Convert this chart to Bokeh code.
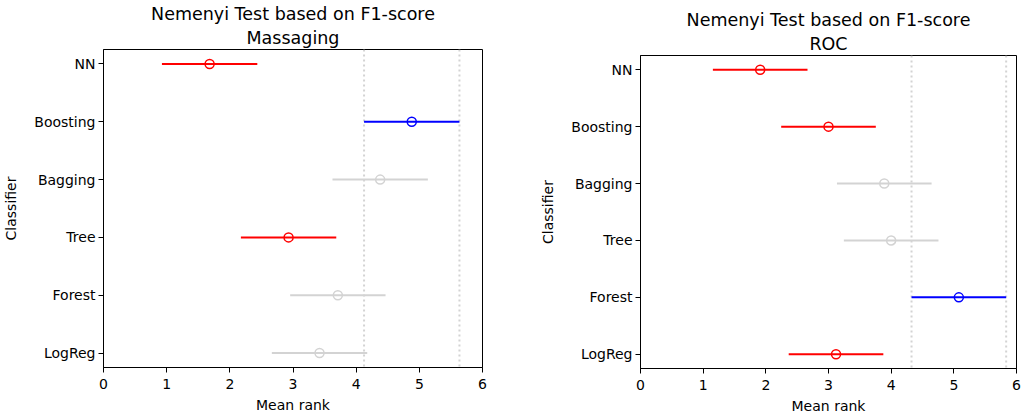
from bokeh.plotting import figure
from bokeh.models import Range1d, FixedTicker, Span, ColumnDataSource, Title
from bokeh.layouts import row, column
from bokeh.embed import file_html
from bokeh.resources import INLINE

classifiers = ["NN", "Boosting", "Bagging", "Tree", "Forest", "LogReg"]
massaging_ranks = [1.68, 4.88, 4.38, 2.93, 3.71, 3.42]
massaging_colors = ["red", "blue", "lightgray", "red", "lightgray", "lightgray"]
roc_ranks = [1.91, 3.00, 3.89, 4.00, 5.08, 3.12]
roc_colors = ["red", "red", "lightgray", "lightgray", "blue", "red"]
critical_difference = 1.51
x_ticks = [0, 1, 2, 3, 4, 5, 6]
main_title = "Nemenyi Test based on F1-score"
sub_titles = ["Massaging", "ROC"]

FONT = "DejaVu Sans"


def make(sub, ranks, colors, width, bl, br, bt, bb):
    n = len(classifiers)
    ys = [n - 1 - i for i in range(n)]
    half = critical_difference / 2
    src = ColumnDataSource(dict(
        y=ys, r=ranks,
        lo=[v - half for v in ranks], hi=[v + half for v in ranks],
        c=colors))
    p = figure(width=width, height=416, output_backend="svg", toolbar_location=None,
               x_range=Range1d(x_ticks[0], x_ticks[-1]), y_range=Range1d(-0.25, n - 0.75),
               min_border_left=bl, min_border_right=br, min_border_top=bt, min_border_bottom=bb)
    p.background_fill_color = "white"
    p.border_fill_color = "white"
    p.outline_line_color = "black"
    p.outline_line_width = 1
    p.outline_line_alpha = 1
    p.xgrid.visible = False
    p.ygrid.visible = False

    best = max(ranks)
    for loc in (best - half, best + half):
        p.add_layout(Span(location=loc, dimension="height", line_color="lightgray",
                          line_dash="2 3", line_width=2, level="underlay"))

    p.segment(x0="lo", y0="y", x1="hi", y1="y", source=src, line_color="c", line_width=2)
    p.scatter(x="r", y="y", source=src, marker="circle", size=9, fill_color=None,
              line_color="c", line_width=1.5)

    p.title.text = main_title
    p.title.align = "center"
    p.title.text_font = FONT
    p.title.text_font_size = "17.5px"
    p.title.text_font_style = "normal"
    p.title.text_color = "black"
    p.title.standoff = 0
    p.add_layout(Title(text=sub, align="center", text_font=FONT, text_color="black",
                       text_font_size="17.5px", text_font_style="normal", standoff=4,
                       text_line_height=0.9), "above")

    p.xaxis.ticker = FixedTicker(ticks=x_ticks)
    p.yaxis.ticker = FixedTicker(ticks=ys)
    p.yaxis.major_label_overrides = {y: name for y, name in zip(ys, classifiers)}
    p.xaxis.axis_label = "Mean rank"
    p.yaxis.axis_label = "Classifier"
    for ax in (p.xaxis[0], p.yaxis[0]):
        ax.minor_tick_line_color = None
        ax.major_tick_in = 0
        ax.major_tick_out = 5
        ax.axis_line_color = "black"
        ax.major_tick_line_color = "black"
        ax.major_label_text_font = FONT
        ax.major_label_text_font_size = "14px"
        ax.major_label_text_color = "black"
        ax.axis_label_text_font = FONT
        ax.axis_label_text_font_size = "14px"
        ax.axis_label_text_font_style = "normal"
        ax.axis_label_text_color = "black"
    p.xaxis.major_label_standoff = 6
    p.xaxis.axis_label_standoff = 5
    p.yaxis.major_label_standoff = 3
    p.yaxis.axis_label_standoff = 12
    return p


p1 = make(sub_titles[0], massaging_ranks, massaging_colors, 520, 102, 38, 49, 49)
p2 = make(sub_titles[1], roc_ranks, roc_colors, 501, 120, 5, 55, 47)
layout = row(column(p1), column(p2))

open("out.html", "w").write(file_html(layout, INLINE))
